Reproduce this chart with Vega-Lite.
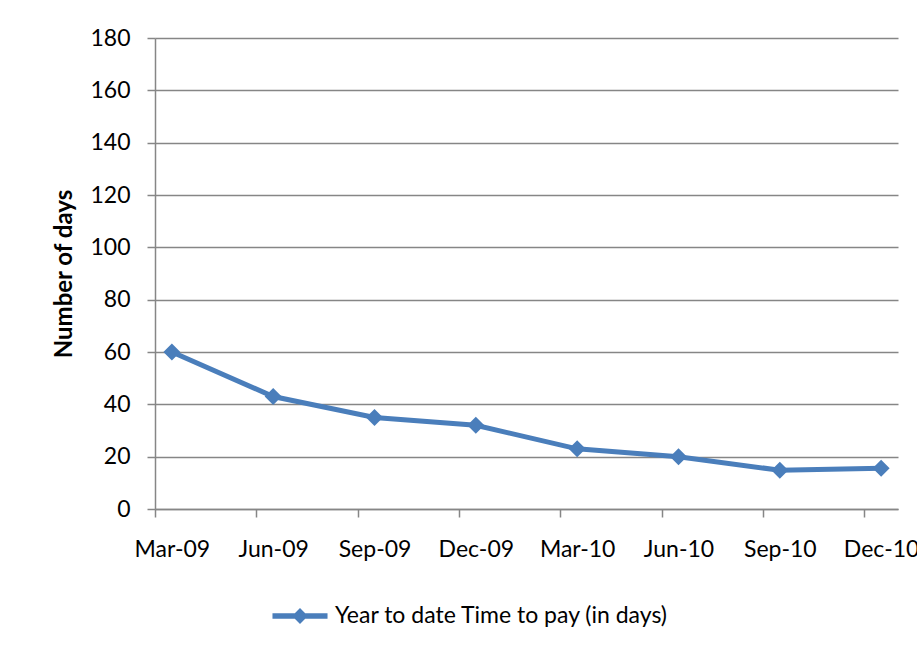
{
  "$schema": "https://vega.github.io/schema/vega-lite/v6.json",
  "width": 743,
  "height": 471,
  "autosize": {"type": "none"},
  "padding": {"left": 155, "top": 38, "right": 19, "bottom": 138},
  "background": "white",
  "config": {"view": {"stroke": null}, "font": "Lato"},
  "data": {
    "values": [
      {"series": "Year to date Time to pay (in days)", "month": "Mar-09", "monthIndex": 0, "days": 60},
      {"series": "Year to date Time to pay (in days)", "month": "Jun-09", "monthIndex": 3, "days": 43},
      {"series": "Year to date Time to pay (in days)", "month": "Sep-09", "monthIndex": 6, "days": 35},
      {"series": "Year to date Time to pay (in days)", "month": "Dec-09", "monthIndex": 9, "days": 32},
      {"series": "Year to date Time to pay (in days)", "month": "Mar-10", "monthIndex": 12, "days": 23},
      {"series": "Year to date Time to pay (in days)", "month": "Jun-10", "monthIndex": 15, "days": 20},
      {"series": "Year to date Time to pay (in days)", "month": "Sep-10", "monthIndex": 18, "days": 14.8},
      {"series": "Year to date Time to pay (in days)", "month": "Dec-10", "monthIndex": 21, "days": 15.6}
    ]
  },
  "mark": {
    "type": "line",
    "color": "#4A7EBB",
    "strokeWidth": 5,
    "point": {"shape": "diamond", "size": 289, "filled": true, "color": "#4A7EBB", "opacity": 1}
  },
  "encoding": {
    "x": {
      "field": "monthIndex",
      "type": "quantitative",
      "scale": {"domain": [-0.5, 21.5], "nice": false, "zero": false},
      "axis": {
        "values": [0, 3, 6, 9, 12, 15, 18, 21],
        "labelExpr": "['Mar-09','Jun-09','Sep-09','Dec-09','Mar-10','Jun-10','Sep-10','Dec-10'][datum.value/3]",
        "title": null,
        "grid": false,
        "domainColor": "#868686",
        "domainWidth": 1.5,
        "tickColor": "#868686",
        "tickWidth": 1.5,
        "tickSize": 8,
        "tickOffset": -16.886,
        "labelOffset": 16.886,
        "labelFontSize": 23,
        "labelColor": "black",
        "labelPadding": 21,
        "labelAngle": 0,
        "labelOverlap": false,
        "labelFlush": false,
        "labelBound": false
      }
    },
    "y": {
      "field": "days",
      "type": "quantitative",
      "scale": {"domain": [0, 180], "nice": false},
      "axis": {
        "values": [0, 20, 40, 60, 80, 100, 120, 140, 160, 180],
        "title": "Number of days",
        "titleFontSize": 24,
        "titleFontWeight": "bold",
        "titleColor": "black",
        "titlePadding": 13,
        "grid": true,
        "gridColor": "#868686",
        "gridWidth": 1.5,
        "domainColor": "#868686",
        "domainWidth": 1.5,
        "tickColor": "#868686",
        "tickWidth": 1.5,
        "tickSize": 8,
        "labelFontSize": 23,
        "labelColor": "black",
        "labelPadding": 17
      }
    },
    "color": {
      "field": "series",
      "type": "nominal",
      "scale": {"range": ["#4A7EBB"]},
      "legend": {
        "orient": "none",
        "legendX": 133.5,
        "legendY": 566.5,
        "title": null,
        "symbolType": "M-3.44,-0.35H-0.65L0,-1L0.65,-0.35H3.44V0.35H0.65L0,1L-0.65,0.35H-3.44Z",
        "symbolSize": 256,
        "labelFontSize": 23,
        "labelColor": "black",
        "labelLimit": 500,
        "labelOffset": 23.5,
        "symbolFillColor": "#4A7EBB",
        "symbolStrokeWidth": 0,
        "encode": {
          "symbols": {
            "update": {
              "fill": {"value": "#4A7EBB"},
              "stroke": {"value": "transparent"},
              "strokeWidth": {"value": 0},
              "opacity": {"value": 1}
            }
          }
        }
      }
    }
  }
}
